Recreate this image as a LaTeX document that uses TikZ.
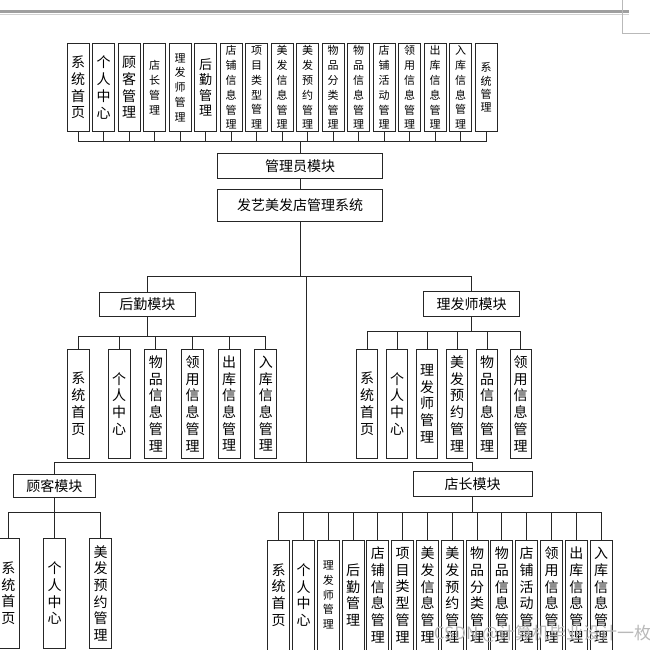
\documentclass[tikz,border=0pt]{standalone}
\usepackage{fontspec}
\setmainfont{Noto Sans CJK SC}
\usepackage{tikz}
\usetikzlibrary{positioning}
\tikzstyle{modbox}=[rectangle,draw=black!85,fill=white,inner sep=0mm,font=\fontsize{14}{16}\selectfont]
\tikzstyle{colbox}=[rectangle,draw=black!85,fill=white,inner sep=0.3mm,minimum width=22,align=center]
\tikzstyle{bigtext}=[font=\fontsize{14}{16.7}\selectfont]
\tikzstyle{smalltext}=[font=\fontsize{11}{14.8}\selectfont]
\tikzstyle{link}=[draw=black!85]
\tikzset{every picture/.style={
    line width=0.9
  }
}

\begin{document}
\begin{tikzpicture}[x=1pt,y=-1pt]
        \useasboundingbox (0,0) rectangle (650,650);
        \clip (0,0) rectangle (650,650);
        % page rule and corner mark
        \draw[gray!75,line width=3] (0,11.7) -- (629,11.7);
        \draw[gray!35,line width=0.6] (0,14.6) -- (629,14.6);
        \draw[gray!55,line width=0.6] (622.3,0) -- (622.3,33.3) -- (650,33.3);
        % admin row
        \node[colbox,bigtext,minimum height=88.4] at (78,87.5) (a1) {系\\统\\首\\页};
        \node[colbox,bigtext,minimum height=88.4] at (103.5,87.5) (a2) {个\\人\\中\\心};
        \node[colbox,bigtext,minimum height=88.4] at (129,87.5) (a3) {顾\\客\\管\\理};
        \node[colbox,smalltext,minimum height=88.4] at (154.5,87.5) (a4) {店\\长\\管\\理};
        \node[colbox,smalltext,minimum height=88.4] at (180,87.5) (a5) {理\\发\\师\\管\\理};
        \node[colbox,font=\fontsize{13}{15.3}\selectfont,minimum height=88.4] at (205.5,87.5) (a6) {后\\勤\\管\\理};
        \node[colbox,smalltext,minimum height=88.4] at (231,87.5) (a7) {店\\铺\\信\\息\\管\\理};
        \node[colbox,smalltext,minimum height=88.4] at (256.5,87.5) (a8) {项\\目\\类\\型\\管\\理};
        \node[colbox,smalltext,minimum height=88.4] at (282,87.5) (a9) {美\\发\\信\\息\\管\\理};
        \node[colbox,smalltext,minimum height=88.4] at (307.5,87.5) (a10) {美\\发\\预\\约\\管\\理};
        \node[colbox,smalltext,minimum height=88.4] at (333,87.5) (a11) {物\\品\\分\\类\\管\\理};
        \node[colbox,smalltext,minimum height=88.4] at (358.5,87.5) (a12) {物\\品\\信\\息\\管\\理};
        \node[colbox,smalltext,minimum height=88.4] at (384,87.5) (a13) {店\\铺\\活\\动\\管\\理};
        \node[colbox,smalltext,minimum height=88.4] at (409.5,87.5) (a14) {领\\用\\信\\息\\管\\理};
        \node[colbox,smalltext,minimum height=88.4] at (435,87.5) (a15) {出\\库\\信\\息\\管\\理};
        \node[colbox,smalltext,minimum height=88.4] at (460.5,87.5) (a16) {入\\库\\信\\息\\管\\理};
        \node[colbox,font=\fontsize{11}{13.4}\selectfont,minimum height=88.4] at (486,87.5) (a17) {系\\统\\管\\理};
        % modules
        \node[modbox,minimum width=164.4,minimum height=25] at (300,165.8) (admin) {管理员模块};
        \node[modbox,minimum width=164.4,minimum height=32.4] at (300,205.5) (system) {发艺美发店管理系统};
        \node[modbox,minimum width=95.7,minimum height=24.4] at (147.3,304.5) (houqin) {后勤模块};
        \node[modbox,minimum width=96,minimum height=25] at (471.7,304.2) (lifashi) {理发师模块};
        \node[modbox,minimum width=82.4,minimum height=23.4] at (54.3,486) (guke) {顾客模块};
        \node[modbox,minimum width=119,minimum height=25] at (472.7,484.2) (dianzhang) {店长模块};
        % houqin row
        \node[colbox,bigtext,minimum height=109.3] at (78.3,403.7) (h1) {系\\统\\首\\页};
        \node[colbox,bigtext,minimum height=109.3] at (119.2,403.7) (h2) {个\\人\\中\\心};
        \node[colbox,bigtext,minimum height=109.3] at (155.8,403.7) (h3) {物\\品\\信\\息\\管\\理};
        \node[colbox,bigtext,minimum height=109.3] at (192.5,403.7) (h4) {领\\用\\信\\息\\管\\理};
        \node[colbox,bigtext,minimum height=109.3] at (229.2,403.7) (h5) {出\\库\\信\\息\\管\\理};
        \node[colbox,bigtext,minimum height=109.3] at (265.8,403.7) (h6) {入\\库\\信\\息\\管\\理};
        % lifashi row
        \node[colbox,bigtext,minimum width=21,minimum height=109.3] at (367,403.7) (l1) {系\\统\\首\\页};
        \node[colbox,bigtext,minimum width=21,minimum height=109.3] at (397,403.7) (l2) {个\\人\\中\\心};
        \node[colbox,bigtext,minimum width=21,minimum height=109.3] at (427,403.7) (l3) {理\\发\\师\\管\\理};
        \node[colbox,bigtext,minimum width=21,minimum height=109.3] at (457,403.7) (l4) {美\\发\\预\\约\\管\\理};
        \node[colbox,bigtext,minimum width=21,minimum height=109.3] at (487,403.7) (l5) {物\\品\\信\\息\\管\\理};
        \node[colbox,bigtext,minimum width=21,minimum height=109.3] at (520.5,403.7) (l6) {领\\用\\信\\息\\管\\理};
        % guke row
        \node[colbox,bigtext,minimum height=110] at (8.5,593.3) (g1) {系\\统\\首\\页};
        \node[colbox,bigtext,minimum height=110] at (54.5,593.3) (g2) {个\\人\\中\\心};
        \node[colbox,bigtext,minimum height=110] at (100.5,593.3) (g3) {美\\发\\预\\约\\管\\理};
        % dianzhang row
        \node[colbox,bigtext,minimum height=110] at (278.7,595) (d1) {系\\统\\首\\页};
        \node[colbox,bigtext,minimum height=110] at (303.5,595) (d2) {个\\人\\中\\心};
        \node[colbox,smalltext,minimum height=110] at (328.3,595) (d3) {理\\发\\师\\管\\理};
        \node[colbox,bigtext,minimum height=110] at (353.1,595) (d4) {后\\勤\\管\\理};
        \node[colbox,bigtext,minimum height=110] at (377.9,595) (d5) {店\\铺\\信\\息\\管\\理};
        \node[colbox,bigtext,minimum height=110] at (402.7,595) (d6) {项\\目\\类\\型\\管\\理};
        \node[colbox,bigtext,minimum height=110] at (427.5,595) (d7) {美\\发\\信\\息\\管\\理};
        \node[colbox,bigtext,minimum height=110] at (452.3,595) (d8) {美\\发\\预\\约\\管\\理};
        \node[colbox,bigtext,minimum height=110] at (477.1,595) (d9) {物\\品\\分\\类\\管\\理};
        \node[colbox,bigtext,minimum height=110] at (501.9,595) (d10) {物\\品\\信\\息\\管\\理};
        \node[colbox,bigtext,minimum height=110] at (526.7,595) (d11) {店\\铺\\活\\动\\管\\理};
        \node[colbox,bigtext,minimum height=110] at (551.5,595) (d12) {领\\用\\信\\息\\管\\理};
        \node[colbox,bigtext,minimum height=110] at (576.3,595) (d13) {出\\库\\信\\息\\管\\理};
        \node[colbox,bigtext,minimum height=110] at (601.1,595) (d14) {入\\库\\信\\息\\管\\理};
        % bus points
        \coordinate (abus) at (300,141.7);
        \coordinate (split) at (300,276.7);
        \coordinate (midtop) at (306.7,276.7);
        \coordinate (midbot) at (306.7,462.3);
        \coordinate (hbus) at (147.3,336.7);
        \coordinate (lbus) at (471.7,331.7);
        \coordinate (gbus) at (54.3,512.7);
        \coordinate (dbus) at (472.7,512.7);
        % connectors
        \draw[link] (admin.north) -- (abus);
        \draw[link] (admin.south) -- (system.north);
        \draw[link] (a1.south) |- (abus);
        \draw[link] (a2.south) |- (abus);
        \draw[link] (a3.south) |- (abus);
        \draw[link] (a4.south) |- (abus);
        \draw[link] (a5.south) |- (abus);
        \draw[link] (a6.south) |- (abus);
        \draw[link] (a7.south) |- (abus);
        \draw[link] (a8.south) |- (abus);
        \draw[link] (a9.south) |- (abus);
        \draw[link] (a10.south) |- (abus);
        \draw[link] (a11.south) |- (abus);
        \draw[link] (a12.south) |- (abus);
        \draw[link] (a13.south) |- (abus);
        \draw[link] (a14.south) |- (abus);
        \draw[link] (a15.south) |- (abus);
        \draw[link] (a16.south) |- (abus);
        \draw[link] (a17.south) |- (abus);
        \draw[link] (system.south) -- (split);
        \draw[link] (houqin.north) |- (split);
        \draw[link] (lifashi.north) |- (split);
        \draw[link] (midtop) -- (midbot);
        \draw[link] (guke.north) |- (midbot);
        \draw[link] (dianzhang.north) |- (midbot);
        \draw[link] (houqin.south) -- (hbus);
        \draw[link] (h1.north) |- (hbus);
        \draw[link] (h2.north) |- (hbus);
        \draw[link] (h3.north) |- (hbus);
        \draw[link] (h4.north) |- (hbus);
        \draw[link] (h5.north) |- (hbus);
        \draw[link] (h6.north) |- (hbus);
        \draw[link] (lifashi.south) -- (lbus);
        \draw[link] (l1.north) |- (lbus);
        \draw[link] (l2.north) |- (lbus);
        \draw[link] (l3.north) |- (lbus);
        \draw[link] (l4.north) |- (lbus);
        \draw[link] (l5.north) |- (lbus);
        \draw[link] (l6.north) |- (lbus);
        \draw[link] (guke.south) -- (gbus);
        \draw[link] (g1.north) |- (gbus);
        \draw[link] (g2.north) |- (gbus);
        \draw[link] (g3.north) |- (gbus);
        \draw[link] (dianzhang.south) -- (dbus);
        \draw[link] (d1.north) |- (dbus);
        \draw[link] (d2.north) |- (dbus);
        \draw[link] (d3.north) |- (dbus);
        \draw[link] (d4.north) |- (dbus);
        \draw[link] (d5.north) |- (dbus);
        \draw[link] (d6.north) |- (dbus);
        \draw[link] (d7.north) |- (dbus);
        \draw[link] (d8.north) |- (dbus);
        \draw[link] (d9.north) |- (dbus);
        \draw[link] (d10.north) |- (dbus);
        \draw[link] (d11.north) |- (dbus);
        \draw[link] (d12.north) |- (dbus);
        \draw[link] (d13.north) |- (dbus);
        \draw[link] (d14.north) |- (dbus);
        % watermark
        \node[text=gray!55,anchor=west,font=\fontsize{17}{17}\selectfont] at (430,634) (mark) {CSDN @计算机毕业设计一枚};
      \end{tikzpicture}
\end{document}
